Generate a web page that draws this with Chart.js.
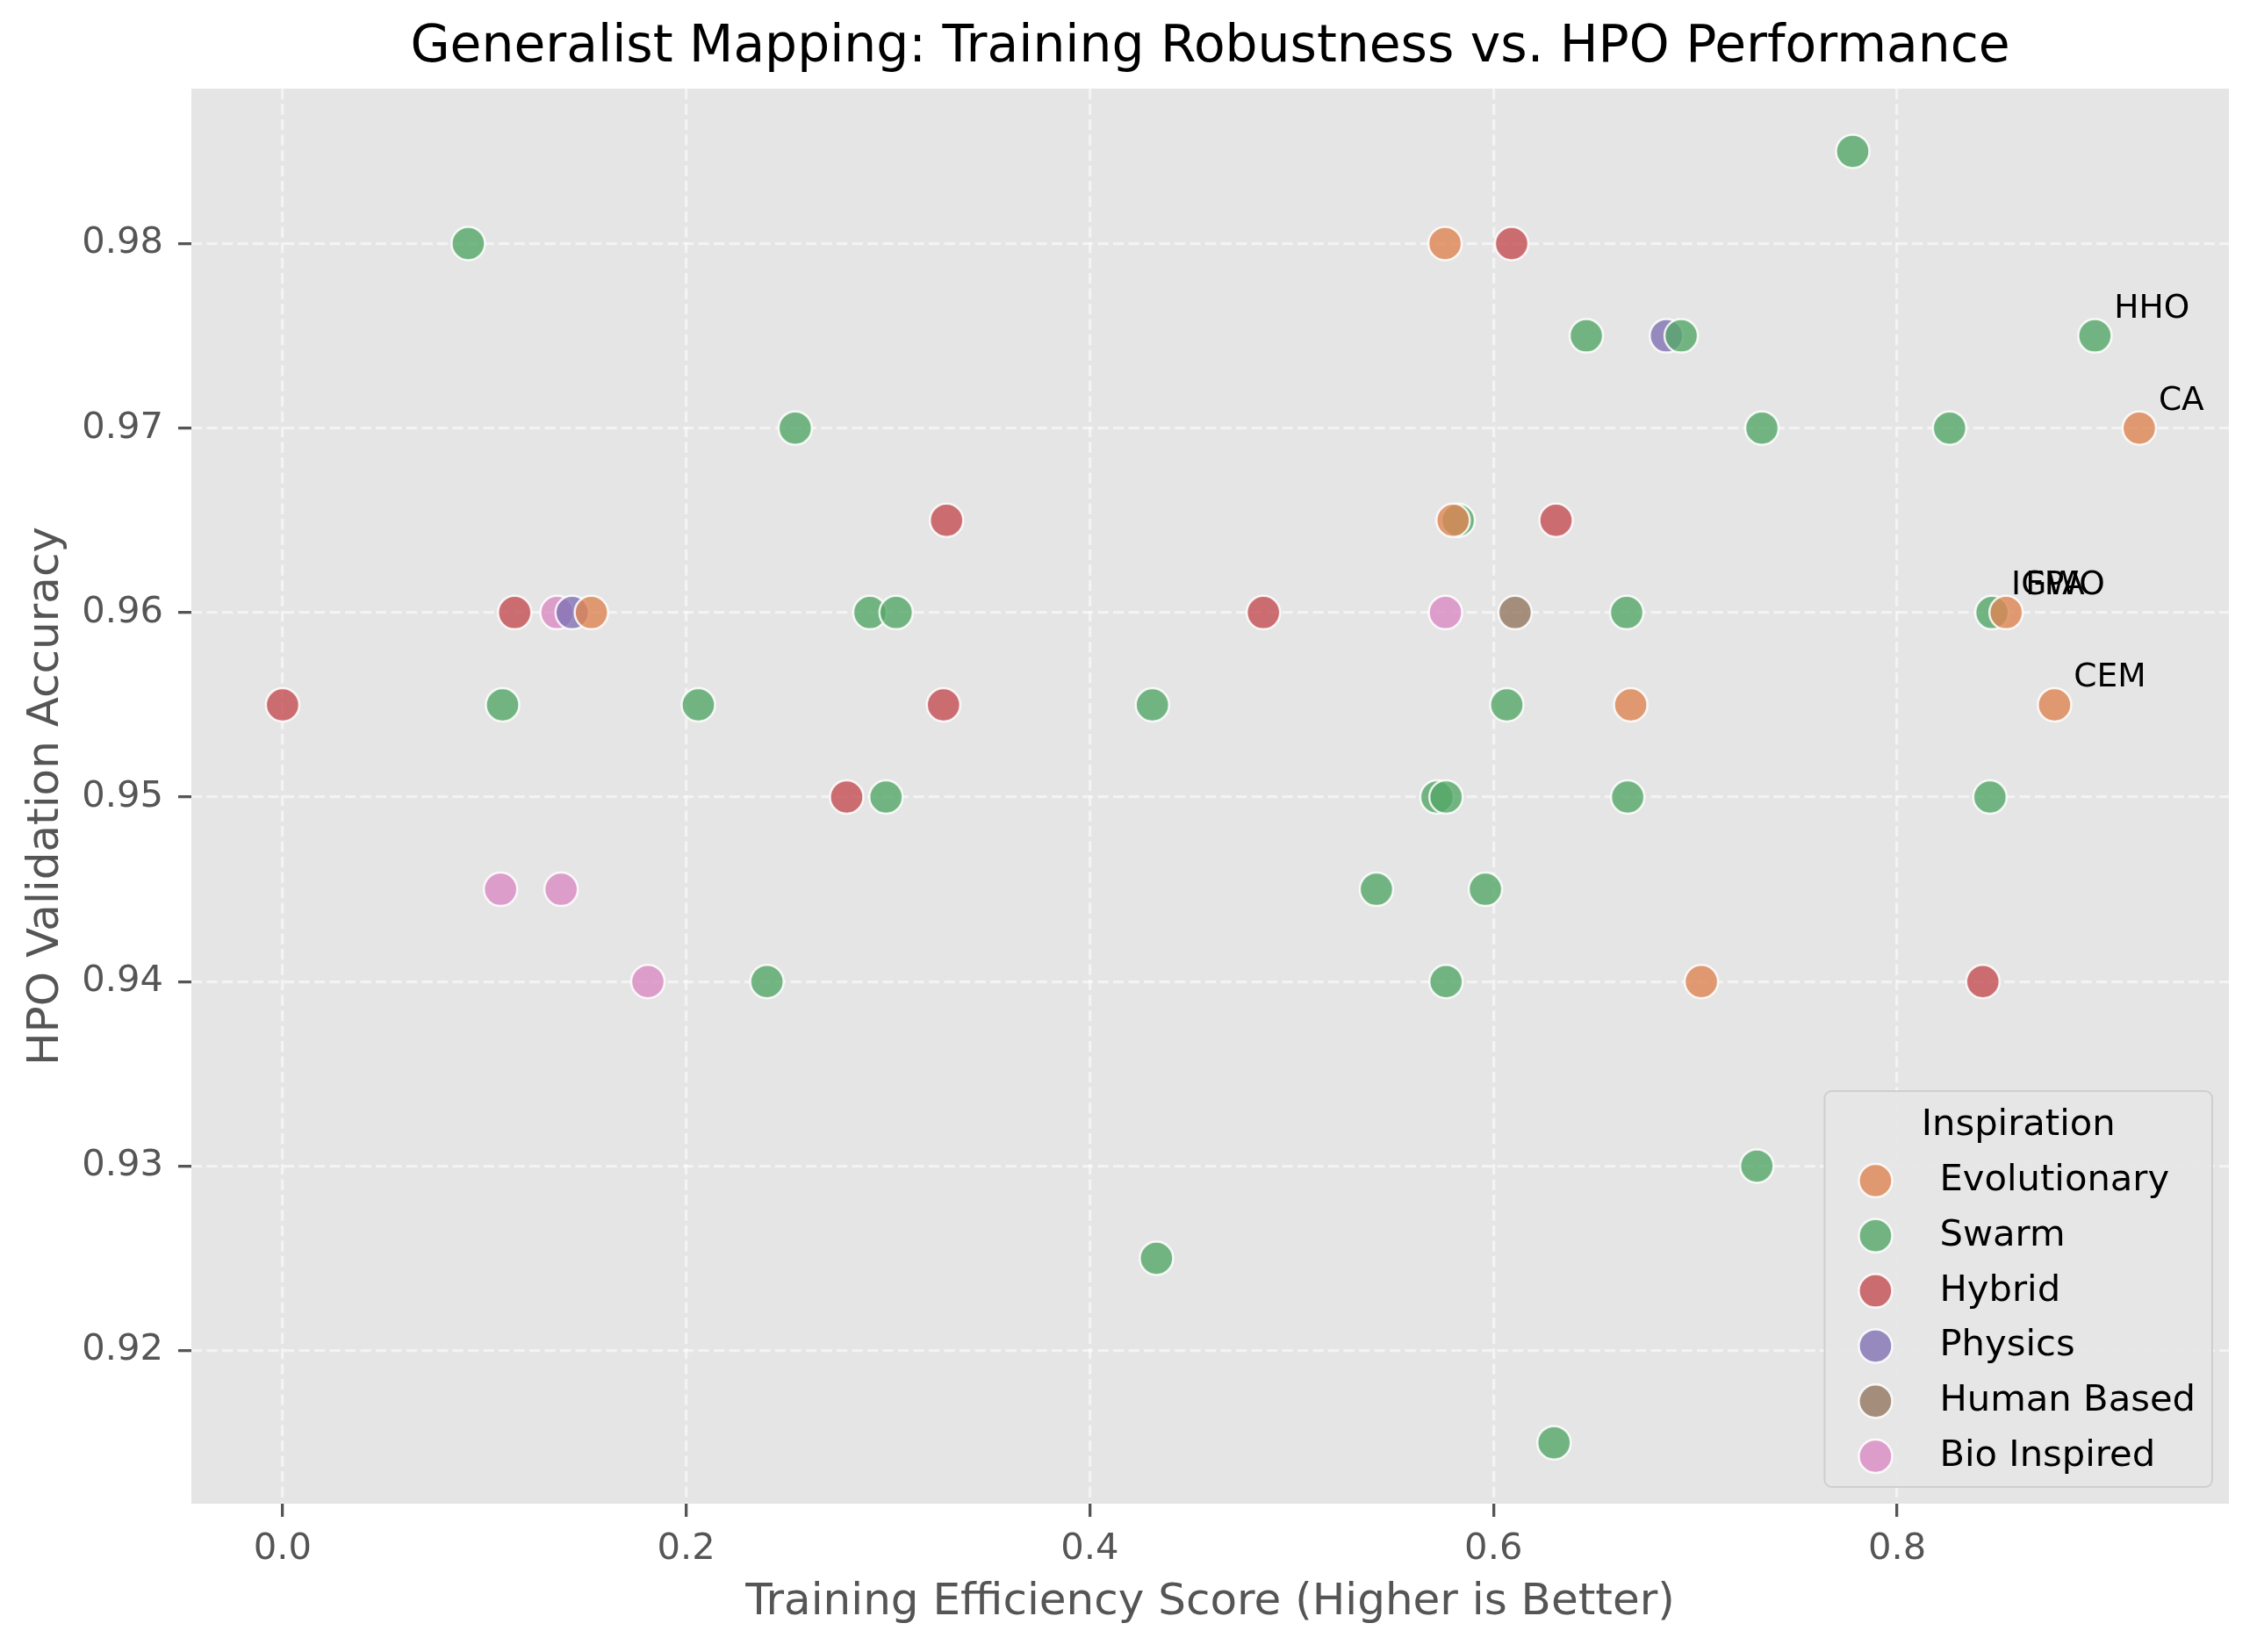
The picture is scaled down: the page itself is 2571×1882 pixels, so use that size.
<!DOCTYPE html>
<html lang="en">
<head>
<meta charset="UTF-8">
<title>Generalist Mapping</title>
<script src="https://cdn.jsdelivr.net/npm/chart.js"></script>
<style>
  html, body { margin: 0; padding: 0; background: #fff; }
  #wrap { width: 2571px; height: 1882px; }
</style>
</head>
<body>
<div id="wrap"><canvas id="chart" width="2571" height="1882"></canvas></div>
<script>
// categories and colours (seaborn "muted"-like)
const categories = ['Evolutionary', 'Swarm', 'Hybrid', 'Physics', 'Human Based', 'Bio Inspired'];
const catColors = ['221,132,82', '85,168,104', '196,78,82', '129,114,179', '147,120,96', '218,139,195'];

// training efficiency (x) and HPO validation accuracy (y), per category
const evoX = [0.576, 0.920, 0.580, 0.153, 0.854, 0.668, 0.878, 0.703];
const evoY = [0.980, 0.970, 0.965, 0.960, 0.960, 0.955, 0.955, 0.940];

const swarmX = [0.778, 0.092, 0.646, 0.693, 0.898, 0.254, 0.733, 0.826, 0.5825, 0.291, 0.304, 0.666, 0.847,
                0.109, 0.206, 0.431, 0.6066, 0.299, 0.572, 0.5765, 0.6665, 0.846, 0.542, 0.596, 0.240, 0.5765,
                0.7305, 0.433, 0.630];
const swarmY = [0.985, 0.980, 0.975, 0.975, 0.975, 0.970, 0.970, 0.970, 0.965, 0.960, 0.960, 0.960, 0.960,
                0.955, 0.955, 0.955, 0.955, 0.950, 0.950, 0.950, 0.950, 0.950, 0.945, 0.945, 0.940, 0.940,
                0.930, 0.925, 0.915];

const hybridX = [0.609, 0.329, 0.631, 0.115, 0.486, 0.000, 0.3275, 0.2795, 0.8425];
const hybridY = [0.980, 0.965, 0.965, 0.960, 0.960, 0.955, 0.955, 0.950, 0.940];

const physicsX = [0.6857, 0.1435];
const physicsY = [0.975, 0.960];

const humanX = [0.6107];
const humanY = [0.960];

const bioX = [0.136, 0.5762, 0.108, 0.138, 0.181];
const bioY = [0.960, 0.960, 0.945, 0.945, 0.940];

// names of the top-5 by training efficiency (descending)
const topLabels = ['CA', 'HHO', 'CEM', 'FPA', 'IGWO'];

const xTicks = [0.0, 0.2, 0.4, 0.6, 0.8];
const yTicks = [0.92, 0.93, 0.94, 0.95, 0.96, 0.97, 0.98];

const seriesX = [evoX, swarmX, hybridX, physicsX, humanX, bioX];
const seriesY = [evoY, swarmY, hybridY, physicsY, humanY, bioY];

Chart.defaults.font.family = '"DejaVu Sans", sans-serif';

const datasets = categories.map((c, i) => ({
  label: c,
  data: seriesX[i].map((x, j) => ({ x: x, y: seriesY[i][j] })),
  backgroundColor: 'rgba(' + catColors[i] + ',0.8)',
  borderColor: 'rgba(255,255,255,0.85)',
  borderWidth: 2.5,
  pointRadius: 19,
  pointHoverRadius: 19
}));

// grey plot background
const bgPlugin = {
  id: 'bg',
  beforeDraw(chart) {
    const { ctx, chartArea: ca } = chart;
    ctx.save();
    ctx.fillStyle = '#ffffff';
    ctx.fillRect(0, 0, chart.width, chart.height);
    ctx.fillStyle = '#e5e5e5';
    ctx.fillRect(ca.left, ca.top, ca.right - ca.left, ca.bottom - ca.top);
    ctx.restore();
  }
};

// text labels for the top points
const labelPlugin = {
  id: 'pointLabels',
  afterDatasetsDraw(chart) {
    const ctx = chart.ctx;
    const pts = [];
    chart.data.datasets.forEach(ds => ds.data.forEach(p => pts.push(p)));
    pts.sort((a, b) => b.x - a.x);
    ctx.save();
    ctx.font = '37.5px "DejaVu Sans"';
    ctx.fillStyle = '#000';
    ctx.textAlign = 'left';
    ctx.textBaseline = 'alphabetic';
    topLabels.forEach((name, i) => {
      const px = chart.scales.x.getPixelForValue(pts[i].x);
      const py = chart.scales.y.getPixelForValue(pts[i].y);
      ctx.fillText(name, px + 22, py - 21);
    });
    ctx.restore();
  }
};

function roundRect(ctx, x, y, w, h, r) {
  ctx.beginPath();
  ctx.moveTo(x + r, y);
  ctx.lineTo(x + w - r, y);
  ctx.arcTo(x + w, y, x + w, y + r, r);
  ctx.lineTo(x + w, y + h - r);
  ctx.arcTo(x + w, y + h, x + w - r, y + h, r);
  ctx.lineTo(x + r, y + h);
  ctx.arcTo(x, y + h, x, y + h - r, r);
  ctx.lineTo(x, y + r);
  ctx.arcTo(x, y, x + r, y, r);
  ctx.closePath();
}

// matplotlib-style legend in the lower right
const legendPlugin = {
  id: 'legendBox',
  afterDraw(chart) {
    const { ctx, chartArea: ca } = chart;
    ctx.save();
    ctx.font = '41.7px "DejaVu Sans"';
    let maxW = 0;
    categories.forEach(c => { maxW = Math.max(maxW, ctx.measureText(c).width); });
    const w = 131 + maxW + 19;
    const h = 451;
    const x0 = ca.right - 19 - w;
    const y0 = ca.bottom - 19 - h;
    roundRect(ctx, x0, y0, w, h, 8);
    ctx.fillStyle = 'rgba(229,229,229,0.9)';
    ctx.fill();
    ctx.strokeStyle = '#cfcfcf';
    ctx.lineWidth = 2;
    ctx.stroke();

    ctx.fillStyle = '#000';
    ctx.textAlign = 'center';
    ctx.textBaseline = 'alphabetic';
    ctx.fillText('Inspiration', x0 + w / 2, y0 + 50);

    ctx.textAlign = 'left';
    categories.forEach((c, i) => {
      const cy = y0 + 102 + i * 62.8;
      ctx.beginPath();
      ctx.arc(x0 + 58, cy, 19, 0, Math.PI * 2);
      ctx.fillStyle = 'rgba(' + catColors[i] + ',0.8)';
      ctx.fill();
      ctx.strokeStyle = 'rgba(255,255,255,0.85)';
      ctx.lineWidth = 2.5;
      ctx.stroke();
      ctx.fillStyle = '#000';
      ctx.fillText(c, x0 + 131, cy + 11);
    });
    ctx.restore();
  }
};

const gridOpts = {
  color: 'rgba(255,255,255,0.55)',
  lineWidth: 3.3,
  tickColor: '#555555',
  tickWidth: 3.3,
  tickLength: 15
};

new Chart(document.getElementById('chart'), {
  type: 'scatter',
  data: { datasets: datasets },
  plugins: [bgPlugin, labelPlugin, legendPlugin],
  options: {
    responsive: false,
    animation: false,
    devicePixelRatio: 1,
    layout: { padding: { left: 0, right: 32, top: 0, bottom: 0 } },
    plugins: {
      legend: { display: false },
      tooltip: { enabled: false },
      title: {
        display: true,
        fullSize: false,
        text: 'Generalist Mapping: Training Robustness vs. HPO Performance',
        color: '#000',
        font: { size: 58.3, weight: 'normal' },
        padding: { top: 19.8, bottom: 11.2 }
      }
    },
    scales: {
      x: {
        type: 'linear',
        position: 'bottom',
        min: -0.0452,
        max: 0.9644,
        afterBuildTicks: s => { s.ticks = xTicks.map(v => ({ value: v })); },
        afterFit: s => { s.height = 169; },
        ticks: {
          color: '#555555',
          font: { size: 41.7 },
          padding: 12,
          callback: v => Number(v).toFixed(1)
        },
        grid: gridOpts,
        border: { display: false, dash: [12.2, 5.3] },
        title: {
          display: true,
          text: 'Training Efficiency Score (Higher is Better)',
          color: '#555555',
          font: { size: 50 },
          padding: { top: 0, bottom: 26 }
        }
      },
      y: {
        type: 'linear',
        position: 'left',
        min: 0.9117,
        max: 0.9884,
        afterBuildTicks: s => { s.ticks = yTicks.map(v => ({ value: v })); },
        afterFit: s => { s.width = 218; },
        ticks: {
          color: '#555555',
          font: { size: 41.7 },
          padding: 17,
          callback: v => Number(v).toFixed(2)
        },
        grid: gridOpts,
        border: { display: false, dash: [12.2, 5.3] },
        title: {
          display: true,
          text: 'HPO Validation Accuracy',
          color: '#555555',
          font: { size: 50 },
          padding: { top: 23, bottom: 0 }
        }
      }
    }
  }
});
</script>
</body>
</html>
